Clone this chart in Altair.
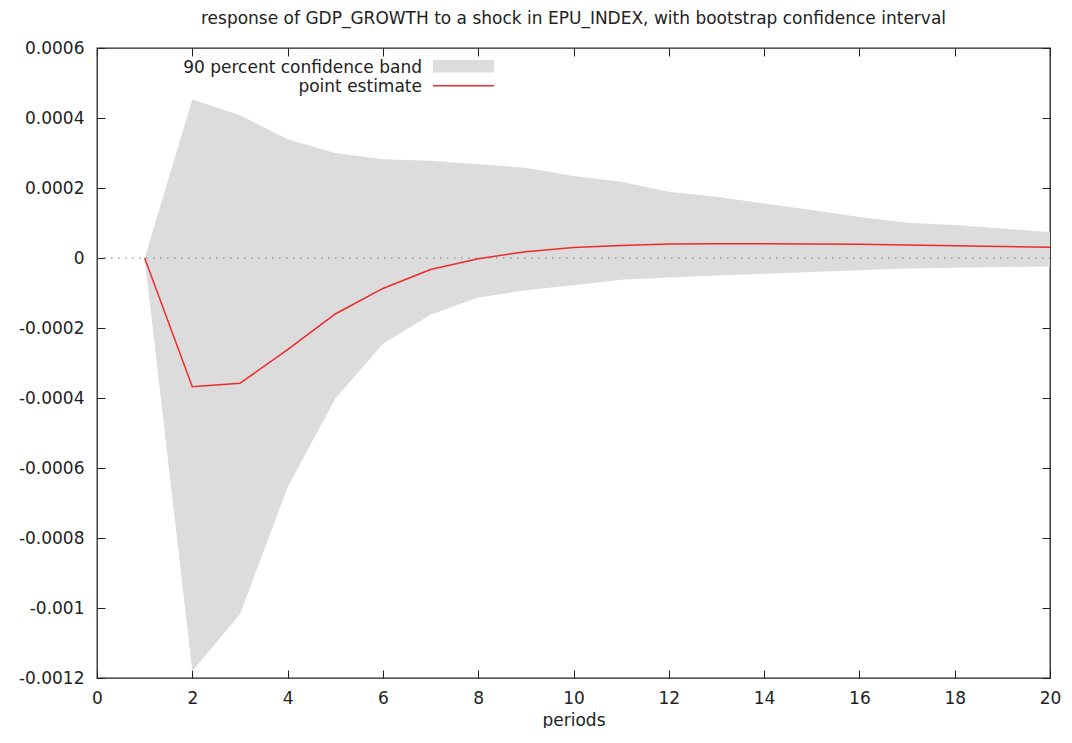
import altair as alt
import pandas as pd

periods = list(range(1, 21))
point_estimate = [0, -0.000368, -0.000358, -0.000262, -0.000160, -0.000087, -0.000033,
                  -0.000002, 0.000018, 0.000030, 0.000036, 0.000040, 0.000041, 0.000041,
                  0.000040, 0.000039, 0.000037, 0.000035, 0.000033, 0.000031]
band_upper = [0, 0.000453, 0.000408, 0.000339, 0.000300, 0.000282, 0.000278, 0.000268,
              0.000258, 0.000234, 0.000218, 0.000189, 0.000175, 0.000156, 0.000137,
              0.000117, 0.000101, 0.000094, 0.000084, 0.000074]
band_lower = [0, -0.00118, -0.001018, -0.000655, -0.000402, -0.000245, -0.000162,
              -0.000113, -0.000092, -0.000078, -0.000062, -0.000056, -0.000050,
              -0.000045, -0.000040, -0.000035, -0.000030, -0.000028, -0.000026, -0.000024]

x_ticks = [0, 2, 4, 6, 8, 10, 12, 14, 16, 18, 20]
y_ticks = [-0.0012, -0.001, -0.0008, -0.0006, -0.0004, -0.0002, 0, 0.0002, 0.0004, 0.0006]
legend_labels = ["90 percent confidence band", "point estimate"]

title_text = "response of GDP_GROWTH to a shock in EPU_INDEX, with bootstrap confidence interval"
FONT = "DejaVu Sans"
FS = 17

df = pd.DataFrame({"period": periods, "est": point_estimate,
                   "lo": band_lower, "hi": band_upper})

xs = alt.Scale(domain=[0, 20], nice=False, zero=False)
ys = alt.Scale(domain=[-0.0012, 0.0006], nice=False, zero=False)

label_expr = "replace(format(datum.value, '~g'), '\u2212', '-')"

x_axis_main = alt.Axis(values=x_ticks, title="periods", offset=-8, domain=False,
                       tickSize=8, tickColor="#222", labelPadding=12, grid=False,
                       labelFont=FONT, labelFontSize=FS, labelColor="#222",
                       titleFont=FONT, titleFontSize=FS, titleFontWeight="normal",
                       titleColor="#222", titlePadding=6, labelFlush=False)
y_axis_main = alt.Axis(values=y_ticks, title=None, offset=-8, domain=False,
                       tickSize=8, tickColor="#222", labelPadding=13, grid=False,
                       labelFont=FONT, labelFontSize=FS, labelColor="#222",
                       labelExpr=label_expr)
x_axis_top = alt.Axis(values=x_ticks, title=None, orient="top", offset=-8, domain=False,
                      tickSize=8, tickColor="#222", labels=False, grid=False)
y_axis_right = alt.Axis(values=y_ticks, title=None, orient="right", offset=-8, domain=False,
                        tickSize=8, tickColor="#222", labels=False, grid=False)

band = alt.Chart(df).mark_area(color="#dcdcdc", opacity=1).encode(
    x=alt.X("period:Q", scale=xs, axis=x_axis_main),
    y=alt.Y("lo:Q", scale=ys, axis=y_axis_main),
    y2="hi:Q",
)

zero_df = pd.DataFrame({"x0": [0], "x1": [20], "y0": [0]})
zero = alt.Chart(zero_df).mark_rule(color="#777", strokeDash=[1.5, 5.5], strokeWidth=1.2).encode(
    x=alt.X("x0:Q", scale=xs, axis=x_axis_top),
    x2="x1:Q",
    y=alt.Y("y0:Q", scale=ys, axis=y_axis_right),
)

line = alt.Chart(df).mark_line(color="#ee2a2a", strokeWidth=1.5).encode(
    x=alt.X("period:Q", scale=xs, axis=None),
    y=alt.Y("est:Q", scale=ys, axis=None),
)

# legend (placed in data coordinates)
leg_text_df = pd.DataFrame({"label": legend_labels, "lx": [6.82, 6.82],
                            "ly": [0.000543, 0.000489]})
leg_text = alt.Chart(leg_text_df).mark_text(align="right", baseline="middle", font=FONT,
                                            fontSize=FS, color="#222").encode(
    x=alt.X("lx:Q", scale=xs, axis=None),
    y=alt.Y("ly:Q", scale=ys, axis=None),
    text="label:N",
)
leg_rect_df = pd.DataFrame({"a": [7.05], "b": [8.33], "c": [0.000566], "d": [0.000530]})
leg_rect = alt.Chart(leg_rect_df).mark_rect(color="#dcdcdc").encode(
    x=alt.X("a:Q", scale=xs, axis=None), x2="b:Q",
    y=alt.Y("c:Q", scale=ys, axis=None), y2="d:Q",
)
leg_line_df = pd.DataFrame({"a": [7.05], "b": [8.33], "c": [0.000492]})
leg_line = alt.Chart(leg_line_df).mark_rule(color="#ee2a2a", strokeWidth=1.5).encode(
    x=alt.X("a:Q", scale=xs, axis=None), x2="b:Q",
    y=alt.Y("c:Q", scale=ys, axis=None),
)

chart = alt.layer(band, zero, line, leg_rect, leg_line, leg_text).resolve_axis(
    x="independent", y="independent"
).properties(
    width=953, height=630,
    title=alt.TitleParams(title_text, font=FONT, fontSize=FS, fontWeight="normal",
                          color="#222", offset=11),
    padding={"left": 10, "right": 0, "top": 2, "bottom": 0},
).configure_view(stroke="#222", strokeWidth=1.3)

chart.save("out.html", embed_options={"renderer": "svg", "actions": False})
